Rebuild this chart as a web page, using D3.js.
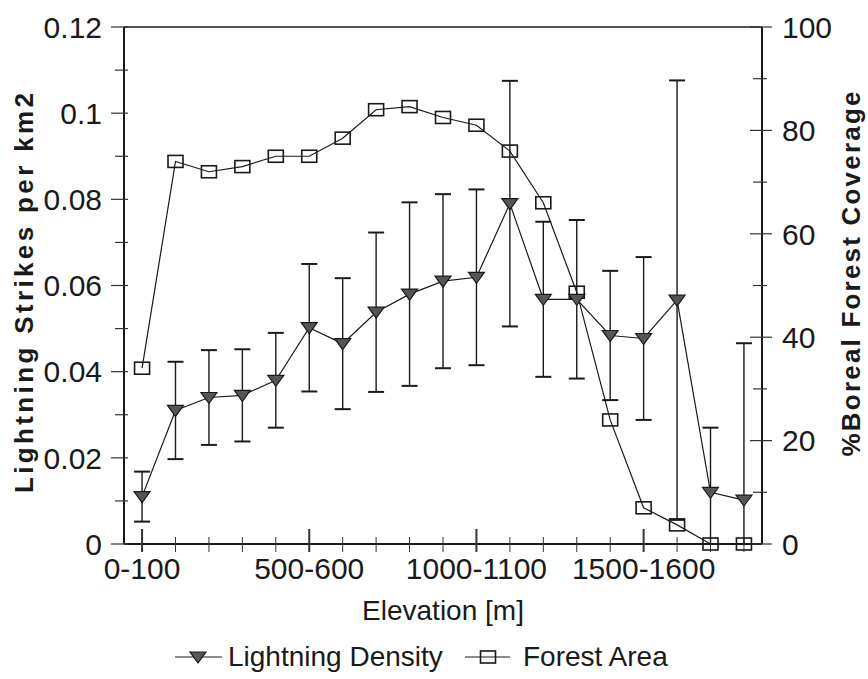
<!DOCTYPE html>
<html>
<head>
<meta charset="utf-8">
<script src="https://cdn.jsdelivr.net/npm/d3@7"></script>
<style>
  body { margin: 0; background: #fff; }
  svg { display: block; font-family: "Liberation Sans", Arial, sans-serif; }
</style>
</head>
<body>
<div id="chart"></div>
<script>
const categories = ['0-100', '100-200', '200-300', '300-400', '400-500', '500-600', '600-700',
  '700-800', '800-900', '900-1000', '1000-1100', '1100-1200', '1200-1300', '1300-1400',
  '1400-1500', '1500-1600', '1600-1700', '1700-1800', '1800-1900'];
const xTickLabels = ['0-100', '500-600', '1000-1100', '1500-1600'];

// lightning density (left axis) with +/- error
const lightning = [0.011, 0.031, 0.034, 0.0345, 0.038, 0.0502, 0.0465, 0.0538, 0.058, 0.061,
  0.0619, 0.079, 0.0568, 0.0568, 0.0484, 0.0477, 0.0566, 0.012, 0.0102];
const lightningErr = [0.0058, 0.0113, 0.011, 0.0107, 0.011, 0.0148, 0.0152, 0.0185, 0.0213, 0.0202,
  0.0204, 0.0285, 0.018, 0.0184, 0.015, 0.0189, 0.051, 0.015, 0.0364];

// boreal forest coverage in % (right axis)
const forest = [34, 74, 72, 73, 75, 75, 78.5, 84, 84.6, 82.5, 81, 76, 66, 48.7, 24, 7, 3.7, 0, 0];

const leftTicks = [0, 0.02, 0.04, 0.06, 0.08, 0.1, 0.12];
const leftTickLabels = ['0', '0.02', '0.04', '0.06', '0.08', '0.1', '0.12'];
const leftMinor = [0.01, 0.03, 0.05, 0.07, 0.09, 0.11];
const rightTicks = [0, 20, 40, 60, 80, 100];
const rightMinor = [10, 30, 50, 70, 90];

const width = 868, height = 679;
const m = { left: 124, right: 106, top: 27, bottom: 135 };
const ink = '#1a1a1a';

const svg = d3.select('#chart').append('svg')
  .attr('width', width)
  .attr('height', height);

const x = d3.scalePoint()
  .domain(categories)
  .range([m.left, width - m.right])
  .padding(0.54);
const yL = d3.scaleLinear().domain([0, 0.12]).range([height - m.bottom, m.top]);
const yR = d3.scaleLinear().domain([0, 100]).range([height - m.bottom, m.top]);

const x0 = m.left, x1 = width - m.right, yb = height - m.bottom, yt = m.top;

// frame
svg.append('line').attr('x1', x0).attr('x2', x1).attr('y1', yt).attr('y2', yt)
  .attr('stroke', ink).attr('stroke-width', 1.5);
svg.append('line').attr('x1', x0).attr('x2', x1).attr('y1', yb).attr('y2', yb)
  .attr('stroke', ink).attr('stroke-width', 2);
svg.append('line').attr('x1', x0).attr('x2', x0).attr('y1', yt).attr('y2', yb)
  .attr('stroke', ink).attr('stroke-width', 2);
svg.append('line').attr('x1', x1).attr('x2', x1).attr('y1', yt).attr('y2', yb)
  .attr('stroke', ink).attr('stroke-width', 2);

// left ticks
const tickG = svg.append('g').attr('stroke', '#333').attr('stroke-width', 1.2);
leftTicks.forEach(v => {
  tickG.append('line').attr('x1', x0 - 13).attr('x2', x0 + 4).attr('y1', yL(v)).attr('y2', yL(v));
});
leftMinor.forEach(v => {
  tickG.append('line').attr('x1', x0 - 9).attr('x2', x0 + 4).attr('y1', yL(v)).attr('y2', yL(v));
});
rightTicks.forEach(v => {
  tickG.append('line').attr('x1', x1 - 12).attr('x2', x1 + 10).attr('y1', yR(v)).attr('y2', yR(v));
});
rightMinor.forEach(v => {
  tickG.append('line').attr('x1', x1 - 9).attr('x2', x1 + 5).attr('y1', yR(v)).attr('y2', yR(v));
});
categories.forEach(c => {
  const major = xTickLabels.includes(c);
  tickG.append('line')
    .attr('x1', x(c)).attr('x2', x(c))
    .attr('y1', major ? yb - 15 : yb - 7)
    .attr('y2', yb + 8)
    .attr('stroke-width', major ? 2 : 1);
});

// tick labels
svg.append('g').selectAll('text')
  .data(leftTicks)
  .join('text')
  .attr('x', x0 - 22)
  .attr('y', d => yL(d))
  .attr('dy', '0.36em')
  .attr('text-anchor', 'end')
  .attr('font-size', 30)
  .attr('fill', ink)
  .text((d, i) => leftTickLabels[i]);

svg.append('g').selectAll('text')
  .data(rightTicks)
  .join('text')
  .attr('x', x1 + 20)
  .attr('y', d => yR(d))
  .attr('dy', '0.36em')
  .attr('font-size', 30)
  .attr('fill', ink)
  .text(d => d);

svg.append('g').selectAll('text')
  .data(xTickLabels)
  .join('text')
  .attr('x', d => x(d))
  .attr('y', 579)
  .attr('text-anchor', 'middle')
  .attr('font-size', 30)
  .attr('fill', ink)
  .text(d => d);

// axis titles
svg.append('text')
  .attr('transform', 'translate(33,293) rotate(-90)')
  .attr('text-anchor', 'middle')
  .attr('font-size', 26)
  .attr('font-weight', 'bold')
  .attr('textLength', 400)
  .attr('lengthAdjust', 'spacing')
  .attr('fill', ink)
  .text('Lightning Strikes per km2');

svg.append('text')
  .attr('transform', 'translate(860,274) rotate(-90)')
  .attr('text-anchor', 'middle')
  .attr('font-size', 26)
  .attr('font-weight', 'bold')
  .attr('textLength', 365)
  .attr('lengthAdjust', 'spacing')
  .attr('fill', ink)
  .text('%Boreal Forest Coverage');

svg.append('text')
  .attr('x', (x0 + x1) / 2)
  .attr('y', 620)
  .attr('text-anchor', 'middle')
  .attr('font-size', 28)
  .attr('fill', ink)
  .text('Elevation [m]');

// markers
const triPath = 'M-8,-5L8,-5L0,6Z';
const drawTri = (g, cx, cy) => g.append('path')
  .attr('d', triPath)
  .attr('transform', `translate(${cx},${cy})`)
  .attr('fill', '#555')
  .attr('stroke', ink)
  .attr('stroke-width', 1.2);
const drawSquare = (g, cx, cy) => g.append('rect')
  .attr('x', cx - 7.5).attr('y', cy - 6)
  .attr('width', 15).attr('height', 12)
  .attr('fill', 'none')
  .attr('stroke', ink)
  .attr('stroke-width', 1.6);

// error bars
const errG = svg.append('g').attr('stroke', ink);
lightning.forEach((v, i) => {
  const cx = x(categories[i]);
  const hi = v + lightningErr[i];
  const lo = v - lightningErr[i];
  errG.append('line')
    .attr('x1', cx).attr('x2', cx)
    .attr('y1', yL(hi)).attr('y2', yL(Math.max(0, lo)))
    .attr('stroke-width', 1.4);
  errG.append('line')
    .attr('x1', cx - 8).attr('x2', cx + 8)
    .attr('y1', yL(hi)).attr('y2', yL(hi))
    .attr('stroke-width', 2);
  if (lo > 0) {
    errG.append('line')
      .attr('x1', cx - 8).attr('x2', cx + 8)
      .attr('y1', yL(lo)).attr('y2', yL(lo))
      .attr('stroke-width', 2);
  }
});

// forest line
svg.append('path')
  .datum(forest)
  .attr('fill', 'none')
  .attr('stroke', ink)
  .attr('stroke-width', 1.2)
  .attr('d', d3.line().x((d, i) => x(categories[i])).y(d => yR(d)));
const sqG = svg.append('g');
forest.forEach((v, i) => drawSquare(sqG, x(categories[i]), yR(v)));

// lightning line
svg.append('path')
  .datum(lightning)
  .attr('fill', 'none')
  .attr('stroke', ink)
  .attr('stroke-width', 1.2)
  .attr('d', d3.line().x((d, i) => x(categories[i])).y(d => yL(d)));
const triG = svg.append('g');
lightning.forEach((v, i) => drawTri(triG, x(categories[i]), yL(v)));

// legend
const leg = svg.append('g');
const ly = 657;
leg.append('line').attr('x1', 175).attr('x2', 222).attr('y1', ly).attr('y2', ly)
  .attr('stroke', ink).attr('stroke-width', 1.2);
drawTri(leg, 198, ly);
leg.append('text').attr('x', 228).attr('y', 666).attr('font-size', 28).attr('fill', ink)
  .text('Lightning Density');
leg.append('line').attr('x1', 465).attr('x2', 510).attr('y1', ly).attr('y2', ly)
  .attr('stroke', ink).attr('stroke-width', 1.2);
drawSquare(leg, 488, ly);
leg.append('text').attr('x', 523).attr('y', 666).attr('font-size', 28).attr('fill', ink)
  .text('Forest Area');
</script>
</body>
</html>
